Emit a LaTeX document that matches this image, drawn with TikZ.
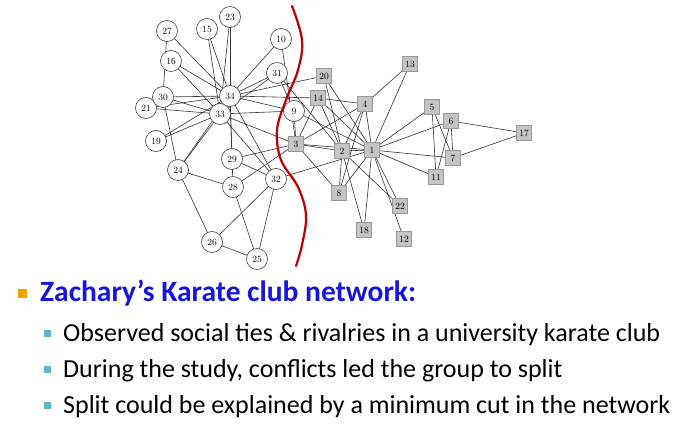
\documentclass[tikz,border=0pt]{standalone}
\usepackage{fontspec}
\newfontfamily\slidefont{Carlito}
\usepackage{xcolor}
\definecolor{cutred}{HTML}{C00000}
\definecolor{headblue}{HTML}{1515E0}
\definecolor{bulorange}{HTML}{F0A500}
\definecolor{bulteal}{HTML}{5FB7C9}
\definecolor{boxgray}{HTML}{C4C4C4}
\usepackage{tikz}
\usetikzlibrary{positioning,backgrounds}

\begin{document}
\begin{tikzpicture}[x=1pt, y=-1pt,
    member/.style={circle, draw=black!75, fill=white, line width=0.6pt,
                   inner sep=0pt, minimum size=21pt, font=\fontsize{9.5}{10}\selectfont},
    rebel/.style={rectangle, draw=black!40, fill=boxgray, line width=0.6pt,
                  inner sep=0pt, minimum size=15.5pt, font=\fontsize{9.5}{10}\selectfont},
    tie/.style={draw=black!80, line width=0.6pt},
    cut/.style={draw=cutred, line width=2.2pt, line cap=round},
    bullet/.style={rectangle, inner sep=0pt, minimum size=#1},
    line/.style={anchor=base west, inner sep=0pt, font=\slidefont\fontsize{26}{30}\selectfont}]
  \useasboundingbox (0,0) rectangle (679,430);

  % the instructor's side
  \node[member] (n9) at (294,111) {9};
  \node[member] (n10) at (281,39) {10};
  \node[member] (n15) at (207,29) {15};
  \node[member] (n16) at (171,61) {16};
  \node[member] (n19) at (156,141) {19};
  \node[member] (n21) at (146,108) {21};
  \node[member] (n23) at (230,17) {23};
  \node[member] (n24) at (178,170) {24};
  \node[member] (n25) at (257,259) {25};
  \node[member] (n26) at (212,242) {26};
  \node[member] (n27) at (167,31) {27};
  \node[member] (n28) at (233,187) {28};
  \node[member] (n29) at (232,159) {29};
  \node[member] (n30) at (163,97) {30};
  \node[member] (n31) at (277,73) {31};
  \node[member] (n32) at (276,179) {32};
  \node[member] (n33) at (220,114) {33};
  \node[member] (n34) at (230,96) {34};

  % the president's side
  \node[rebel] (n1) at (372,150) {1};
  \node[rebel] (n2) at (342,151) {2};
  \node[rebel] (n3) at (296,144) {3};
  \node[rebel] (n4) at (365,104) {4};
  \node[rebel] (n5) at (432,107) {5};
  \node[rebel] (n6) at (451,121) {6};
  \node[rebel] (n7) at (453,158) {7};
  \node[rebel] (n8) at (339,193) {8};
  \node[rebel] (n11) at (436,177) {11};
  \node[rebel] (n12) at (404,239) {12};
  \node[rebel] (n13) at (410,64) {13};
  \node[rebel] (n14) at (318,98) {14};
  \node[rebel] (n17) at (524,133) {17};
  \node[rebel] (n18) at (364,230) {18};
  \node[rebel] (n20) at (324,76) {20};
  \node[rebel] (n22) at (400,206) {22};

  % ties, behind the nodes
  \begin{scope}[on background layer]
  \foreach \a/\b in {1/2,1/3,1/4,1/5,1/6,1/7,1/8,1/9,1/11,1/12,1/13,1/14,1/18,1/20,1/22,1/32,
      2/3,2/4,2/8,2/14,2/18,2/20,2/22,2/31,3/4,3/8,3/9,3/10,3/14,3/28,3/29,3/33,
      4/8,4/13,4/14,5/7,5/11,6/7,6/11,6/17,7/17,9/31,9/33,9/34,10/34,14/34,
      15/33,15/34,16/33,16/34,19/33,19/34,20/34,21/33,21/34,23/33,23/34,
      24/26,24/28,24/30,24/33,24/34,25/26,25/28,25/32,26/32,27/30,27/34,
      28/34,29/32,29/34,30/33,30/34,31/33,31/34,32/33,32/34,33/34}
    \draw[tie] (n\a.center) -- (n\b.center);
  \end{scope}

  % the minimum cut
  \draw[cut] plot[smooth, tension=0.6] coordinates {(292,6) (302,40) (298,70) (286,100)
      (277,130) (281,160) (298,187) (306,215) (302,245) (296,266)};

  % text
  \node[bullet=9pt, fill=bulorange] (b0) at (22,293) {};
  \node[line, font=\slidefont\bfseries\fontsize{29.5}{34}\selectfont, text=headblue]
    (h0) at (40,301) {Zachary’s Karate club network:};
  \node[bullet=7pt, fill=bulteal] (b1) at (47,333) {};
  \node[bullet=7pt, fill=bulteal] (b2) at (47,369) {};
  \node[bullet=7pt, fill=bulteal] (b3) at (47,405) {};
  \node[line] (t1) at (63,341) {Observed social ties \& rivalries in a university karate club};
  \node[line] (t2) at (63,377) {During the study, conflicts led the group to split};
  \node[line] (t3) at (63,413) {Split could be explained by a minimum cut in the network};
\end{tikzpicture}
\end{document}
